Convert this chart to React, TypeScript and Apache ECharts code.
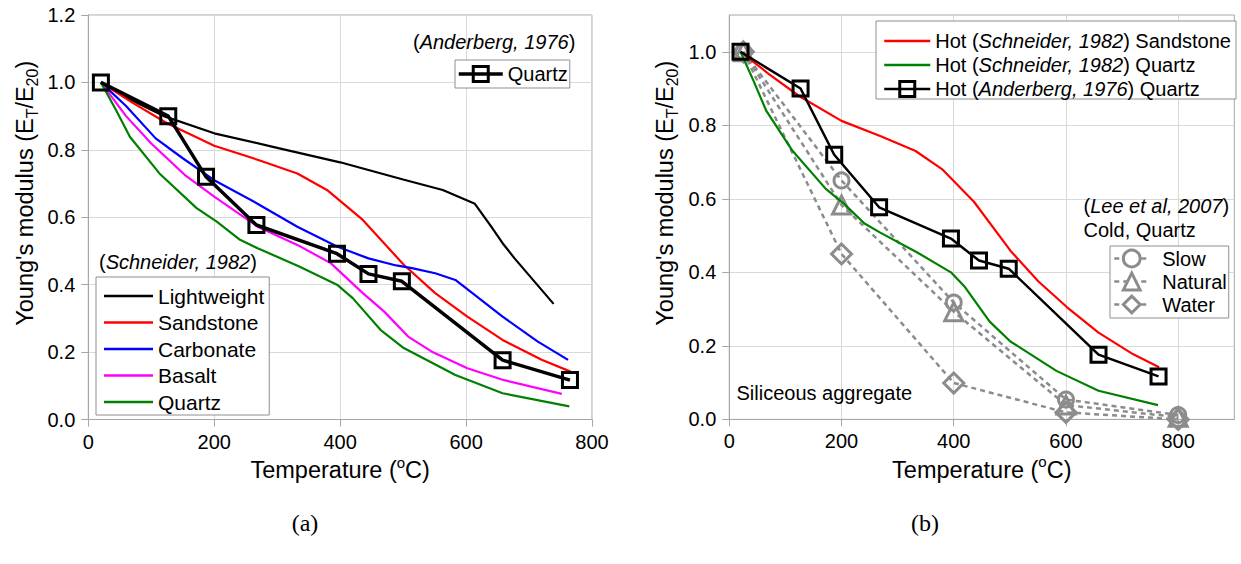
import React, { useEffect, useRef } from "react";
import * as echarts from "echarts";

const FONT = '"Liberation Sans", Arial, Helvetica, sans-serif';
const SERIF = '"Liberation Serif", "Times New Roman", serif';

// ---------- tick values ----------
const xTicksA = [0, 200, 400, 600, 800];
const xTicksB = [0, 200, 400, 600, 800];
const yTicksA = [0, 0.2, 0.4, 0.6, 0.8, 1.0, 1.2];
const yTicksB = [0, 0.2, 0.4, 0.6, 0.8, 1.0];

// ---------- Schneider (1982), hot ----------
const lightweight = [[20, 1.0], [60, 0.955], [120, 0.9], [200, 0.849], [300, 0.806], [400, 0.763], [500, 0.712], [563, 0.681], [614, 0.64], [640, 0.572], [658, 0.523], [677, 0.478], [739, 0.343]];
const sandstone = [[20, 1.0], [70, 0.94], [125, 0.879], [200, 0.812], [270, 0.77], [332, 0.73], [379, 0.681], [436, 0.592], [501, 0.459], [551, 0.375], [602, 0.305], [658, 0.236], [720, 0.177], [766, 0.142]];
const carbonate = [[20, 1.0], [60, 0.93], [107, 0.834], [150, 0.775], [200, 0.71], [268, 0.641], [332, 0.572], [395, 0.513], [445, 0.478], [489, 0.457], [514, 0.449], [551, 0.434], [583, 0.414], [658, 0.305], [714, 0.231], [762, 0.177]];
const basalt = [[20, 1.0], [60, 0.9], [100, 0.819], [153, 0.726], [200, 0.661], [269, 0.572], [332, 0.518], [385, 0.464], [436, 0.375], [470, 0.32], [508, 0.246], [545, 0.202], [602, 0.152], [658, 0.118], [752, 0.076]];
const quartzSch = [[20, 1.0], [44, 0.918], [66, 0.839], [113, 0.73], [172, 0.627], [204, 0.587], [241, 0.533], [269, 0.508], [335, 0.454], [395, 0.4], [420, 0.36], [464, 0.266], [501, 0.212], [583, 0.132], [658, 0.078], [764, 0.039]];

// ---------- Anderberg (1976), hot quartz ----------
const anderberg = [[20, 1.0], [127, 0.9], [187, 0.72], [267, 0.577], [395, 0.492], [445, 0.432], [498, 0.41], [658, 0.176], [765, 0.117]];

// ---------- Lee et al (2007), cold quartz ----------
const leeSlow = [[25, 1.0], [200, 0.65], [400, 0.318], [600, 0.054], [800, 0.012]];
const leeNatural = [[25, 1.0], [200, 0.583], [400, 0.293], [600, 0.039], [800, 0.006]];
const leeWater = [[25, 1.0], [200, 0.45], [400, 0.099], [600, 0.019], [800, 0.0]];

// ---------- names ----------
const schNames = ["Lightweight", "Sandstone", "Carbonate", "Basalt", "Quartz"];
const schColors = ["#000000", "#ff0000", "#0000ff", "#ff00ff", "#008000"];
const ANDER_A = "Quartz (Anderberg)";
const HOT_SAND = "Hot (Schneider, 1982) Sandstone";
const HOT_QTZ = "Hot (Schneider, 1982) Quartz";
const HOT_AND = "Hot (Anderberg, 1976) Quartz";
const hotLabels: Record<string, string> = {
  [HOT_SAND]: "{n|Hot (}{i|Schneider, 1982}{n|) Sandstone}",
  [HOT_QTZ]: "{n|Hot (}{i|Schneider, 1982}{n|) Quartz}",
  [HOT_AND]: "{n|Hot (}{i|Anderberg, 1976}{n|) Quartz}",
};
const leeNames = ["Slow", "Natural", "Water"];

const FRAME = "#a6a6a6";
const GRIDC = "#d9d9d9";
const BOX = "#8f8f8f";
const GRAY = "#8c8c8c";
const TRANSP = "rgba(0,0,0,0)";

const titleRich = {
  n: { fontSize: 23.5, fontFamily: FONT, color: "#000", lineHeight: 31 },
  sub: { fontSize: 16, fontFamily: FONT, color: "#000", lineHeight: 16, verticalAlign: "bottom" },
  sup: { fontSize: 15, fontFamily: FONT, color: "#000", lineHeight: 15, verticalAlign: "top" },
};
const Y_NAME = "{n|Young's modulus (E}{sub|T}{n|/E}{sub|20}{n|)}";
const X_NAME = "{n|Temperature (}{sup|o}{n|C)}";

function xAxisCfg(gridIndex: number, max: number, ticks: number[]) {
  return {
    type: "value",
    gridIndex,
    min: 0,
    max,
    interval: 200,
    axisLine: { show: true, onZero: false, lineStyle: { color: FRAME, width: 1 } },
    axisTick: { show: true, length: 7, inside: false, customValues: ticks, lineStyle: { color: FRAME } },
    axisLabel: { show: true, margin: 12, fontSize: 20, fontFamily: FONT, color: "#000", customValues: ticks },
    splitLine: { show: true, lineStyle: { color: GRIDC, width: 1 } },
    name: X_NAME,
    nameLocation: "middle",
    nameGap: 35,
    nameMoveOverlap: false,
    nameTextStyle: { fontSize: 23.5, fontFamily: FONT, color: "#000", rich: titleRich },
  };
}

function yAxisCfg(gridIndex: number, max: number, ticks: number[], gap: number) {
  return {
    type: "value",
    gridIndex,
    min: 0,
    max,
    interval: 0.2,
    axisLine: { show: true, onZero: false, lineStyle: { color: FRAME, width: 1 } },
    axisTick: { show: true, length: 7, inside: false, customValues: ticks, lineStyle: { color: FRAME } },
    axisLabel: {
      show: true,
      margin: 13,
      fontSize: 20,
      fontFamily: FONT,
      color: "#000",
      customValues: ticks,
      formatter: (v: number) => v.toFixed(1),
    },
    splitLine: { show: true, lineStyle: { color: GRIDC, width: 1 } },
    name: Y_NAME,
    nameLocation: "middle",
    nameRotate: 90,
    nameGap: gap,
    nameMoveOverlap: false,
    nameTextStyle: { fontSize: 23.5, fontFamily: FONT, color: "#000", rich: titleRich, padding: [0, 0, 0, 48] },
  };
}

function plainLine(name: string, data: number[][], color: string, xi: number, width = 2.2) {
  return {
    type: "line",
    name,
    xAxisIndex: xi,
    yAxisIndex: xi,
    data,
    color,
    symbol: "none",
    showSymbol: false,
    lineStyle: { color, width },
    itemStyle: { color },
    emphasis: { disabled: true },
    z: 3,
  };
}

function leeLine(name: string, data: number[][], symbol: string, size: number) {
  return {
    type: "line",
    name,
    xAxisIndex: 1,
    yAxisIndex: 1,
    data,
    color: GRAY,
    symbol,
    symbolSize: size,
    showSymbol: true,
    lineStyle: { color: GRAY, width: 2.5, type: [5, 4] },
    itemStyle: { color: TRANSP, borderColor: GRAY, borderWidth: 3 },
    emphasis: { disabled: true },
    z: 2,
  };
}

function anderLine(name: string, xi: number, width: number) {
  return {
    type: "line",
    name,
    xAxisIndex: xi,
    yAxisIndex: xi,
    data: anderberg,
    color: "#000",
    symbol: "rect",
    symbolSize: 15,
    showSymbol: true,
    lineStyle: { color: "#000", width },
    itemStyle: { color: TRANSP, borderColor: "#000", borderWidth: 3 },
    emphasis: { disabled: true },
    z: 4,
  };
}

const lineIcon = (w: number) => `path://M0,0H${w}V2.6H0Z`;

function buildOption() {
  const schData = [lightweight, sandstone, carbonate, basalt, quartzSch];
  const series: any[] = [];
  schNames.forEach((n, i) => series.push(plainLine(n, schData[i], schColors[i], 0)));
  series.push(anderLine(ANDER_A, 0, 3.5));
  series.push(leeLine("Slow", leeSlow, "circle", 15));
  series.push(leeLine("Natural", leeNatural, "triangle", 18));
  series.push(leeLine("Water", leeWater, "diamond", 20));
  series.push(plainLine(HOT_SAND, sandstone, "#ff0000", 1));
  series.push(plainLine(HOT_QTZ, quartzSch, "#008000", 1));
  series.push(anderLine(HOT_AND, 1, 2.5));

  const legendBase = {
    orient: "vertical",
    selectedMode: false,
    backgroundColor: "#fff",
    borderColor: BOX,
    borderWidth: 1,
    borderRadius: 0,
    z: 10,
  };

  const italicRich = {
    n: { fontSize: 20, fontFamily: FONT, fill: "#000", color: "#000" },
    i: { fontSize: 20, fontFamily: FONT, fill: "#000", color: "#000", fontStyle: "italic" },
  };

  return {
    animation: false,
    backgroundColor: "#fff",
    textStyle: { fontFamily: FONT },
    grid: [
      { left: 88.3, top: 15, width: 503.7, height: 404.5, show: true, borderColor: FRAME, borderWidth: 1, outerBoundsMode: "none", containLabel: false },
      { left: 729.3, top: 15, width: 505, height: 404.4, show: true, borderColor: FRAME, borderWidth: 1, outerBoundsMode: "none", containLabel: false },
    ],
    xAxis: [xAxisCfg(0, 800, xTicksA), xAxisCfg(1, 900, xTicksB)],
    yAxis: [yAxisCfg(0, 1.2, yTicksA, 48), yAxisCfg(1, 1.1, yTicksB, 49)],
    legend: [
      {
        ...legendBase,
        left: 96,
        top: 277,
        padding: [8, 5, 2, 8],
        itemGap: 4.5,
        itemWidth: 49,
        itemHeight: 14,
        textStyle: { fontSize: 21, fontFamily: FONT, color: "#000", lineHeight: 22 },
        itemStyle: { borderWidth: 0 },
        data: schNames.map((n, i) => ({ name: n, icon: lineIcon(49), itemStyle: { color: schColors[i], borderWidth: 0 } })),
      },
      {
        ...legendBase,
        left: 455,
        top: 60,
        padding: [4, 2, 4, 2],
        itemWidth: 44,
        itemHeight: 18.75,
        formatter: () => "Quartz",
        textStyle: { fontSize: 20, fontFamily: FONT, color: "#000", lineHeight: 20 },
        itemStyle: { color: TRANSP, borderColor: "#000", borderWidth: 3 },
        lineStyle: { color: "#000", width: 3.5, type: "solid" },
        data: [{ name: ANDER_A }],
      },
      {
        ...legendBase,
        left: 876,
        top: 21,
        padding: [10, 5, 0, 7],
        itemGap: 4,
        itemWidth: 46,
        itemHeight: 18.75,
        formatter: (name: string) => hotLabels[name] || name,
        textStyle: {
          fontSize: 20,
          fontFamily: FONT,
          color: "#000",
          lineHeight: 20,
          rich: {
            n: { fontSize: 20, fontFamily: FONT, color: "#000", lineHeight: 20 },
            i: { fontSize: 20, fontFamily: FONT, color: "#000", fontStyle: "italic", lineHeight: 20 },
          },
        },
        data: [
          { name: HOT_SAND, icon: lineIcon(46), itemStyle: { color: "#ff0000", borderWidth: 0 } },
          { name: HOT_QTZ, icon: lineIcon(46), itemStyle: { color: "#008000", borderWidth: 0 } },
          {
            name: HOT_AND,
            itemStyle: { color: TRANSP, borderColor: "#000", borderWidth: 3 },
            lineStyle: { color: "#000", width: 2.5, type: "solid" },
          },
        ],
      },
      {
        ...legendBase,
        left: 1110,
        top: 246,
        padding: [2.5, 2, 3.5, 3],
        itemGap: 3,
        itemWidth: 35,
        itemHeight: 21,
        textStyle: { fontSize: 20, fontFamily: FONT, color: "#000", lineHeight: 20, padding: [0, 0, 0, 8] },
        itemStyle: { color: "#fff", borderColor: GRAY, borderWidth: 3 },
        lineStyle: { color: GRAY, width: 2.5, type: [5, 4] },
        data: leeNames.map((n) => ({ name: n })),
      },
    ],
    graphic: {
      elements: [
        {
          type: "text",
          x: 413,
          y: 42,
          z: 20,
          style: { text: "{n|(}{i|Anderberg, 1976}{n|)}", verticalAlign: "middle", textVerticalAlign: "middle", rich: italicRich },
        },
        {
          type: "text",
          x: 99,
          y: 262,
          z: 20,
          style: { text: "{n|(}{i|Schneider, 1982}{n|)}", verticalAlign: "middle", textVerticalAlign: "middle", rich: italicRich },
        },
        {
          type: "text",
          x: 1083.5,
          y: 206,
          z: 20,
          style: { text: "{n|(}{i|Lee et al, 2007}{n|)}", verticalAlign: "middle", textVerticalAlign: "middle", rich: italicRich },
        },
        {
          type: "text",
          x: 1083.5,
          y: 230,
          z: 20,
          style: { text: "Cold, Quartz", font: `20px ${FONT}`, fill: "#000", verticalAlign: "middle", textVerticalAlign: "middle" },
        },
        {
          type: "text",
          x: 736.5,
          y: 392.5,
          z: 20,
          style: { text: "Siliceous aggregate", font: `20px ${FONT}`, fill: "#000", verticalAlign: "middle", textVerticalAlign: "middle" },
        },
        {
          type: "text",
          x: 305,
          y: 523,
          z: 20,
          style: { text: "(a)", font: `24px ${SERIF}`, fill: "#000", align: "center", textAlign: "center", verticalAlign: "middle", textVerticalAlign: "middle" },
        },
        {
          type: "text",
          x: 925,
          y: 523,
          z: 20,
          style: { text: "(b)", font: `24px ${SERIF}`, fill: "#000", align: "center", textAlign: "center", verticalAlign: "middle", textVerticalAlign: "middle" },
        },
      ],
    },
    series,
  };
}

export default function App() {
  const ref = useRef<HTMLDivElement>(null);
  useEffect(() => {
    if (!ref.current) return;
    const chart = echarts.init(ref.current, null, { renderer: "svg" });
    chart.setOption(buildOption() as any);
    return () => chart.dispose();
  }, []);
  return (
    <div
      ref={ref}
      style={{ position: "absolute", left: 0, top: 0, width: 1241, height: 564, background: "#fff" }}
    />
  );
}
